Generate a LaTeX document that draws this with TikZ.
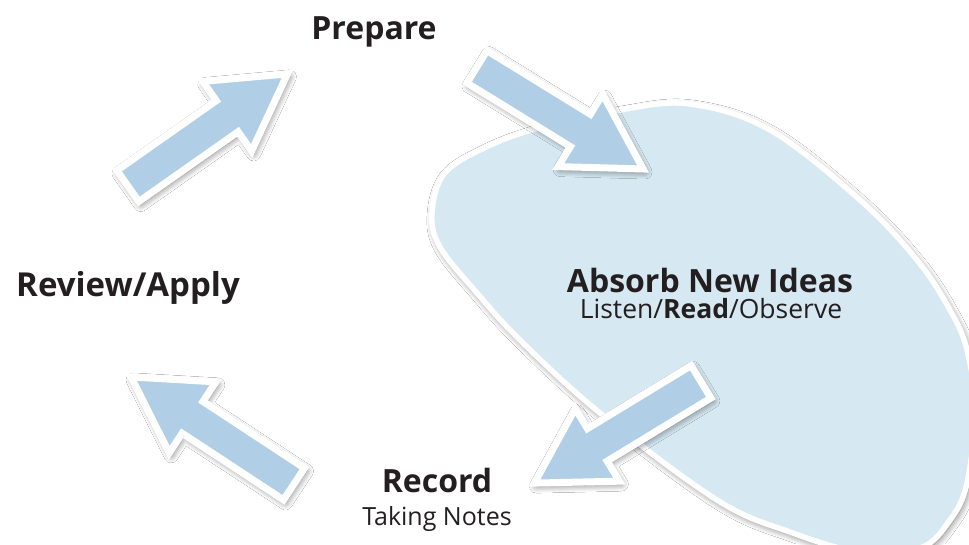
\documentclass[tikz,border=0pt]{standalone}
\usepackage{fontspec}
\setmainfont{Open Sans}
\usetikzlibrary{shapes.arrows,shadows.blur}
\definecolor{blobfill}{RGB}{214,232,241}
\definecolor{arrowfill}{RGB}{176,206,230}
\definecolor{inkc}{RGB}{35,31,32}
\tikzset{
  softshadow/.style={blur shadow={shadow xshift=2pt, shadow yshift=-3pt, shadow blur radius=7pt, shadow blur steps=12, shadow opacity=55}},
  bigarrow/.style={single arrow, draw=white, line width=7pt, fill=arrowfill,
    minimum height=195pt, inner xsep=0pt, inner ysep=15.5pt, single arrow head extend=23.5pt,
    single arrow tip angle=60, outer sep=0pt, line join=miter, anchor=tail, softshadow},
  blobstyle/.style={draw=white, line width=5.5pt, fill=blobfill, softshadow},
  title/.style={font=\bfseries\fontsize{32}{38}\selectfont, text=inkc, anchor=base, inner sep=0pt},
  sub/.style={font=\fontsize{25}{30}\selectfont, text=inkc, anchor=base, inner sep=0pt}
}
\begin{document}
\begin{tikzpicture}[x=1pt,y=-1pt]
\useasboundingbox (0,0) rectangle (969,544);
\fill[white] (0,0) rectangle (969,544);
% blob
\draw[blobstyle] plot[smooth cycle, tension=0.6] coordinates {
 (432,213) (444,174) (482,149) (535,129) (620,110) (690,104) (770,130)
 (860,200) (917,260) (950,310) (967,350) (975,410) (967,483) (950,520)
 (920,548) (860,552) (790,532) (717,500) (600,413) (520,340)
 (477,293) (440,247)};
% arrows
\node[bigarrow, rotate=35.1] (a1) at (127.9,186) {};
\node[bigarrow, rotate=-31.6] (a2) at (477,66.8) {};
\node[bigarrow, rotate=211.3] (a3) at (701,381.8) {};
\node[bigarrow, rotate=146.7] (a4) at (294,484) {};
% texts
\node[title] (prep) at (374,39) {Prepare};
\node[title, font=\bfseries\fontsize{33}{38}\selectfont] (rev) at (128,296) {Review/Apply};
\node[title] (abs) at (710,292) {Absorb New Ideas};
\node[sub, font=\fontsize{26.5}{30}\selectfont] (lis) at (711,318) {Listen/\textbf{Read}/Observe};
\node[title] (rec) at (437,492) {Record};
\node[sub] (tak) at (437,525) {Taking Notes};
\end{tikzpicture}
\end{document}
